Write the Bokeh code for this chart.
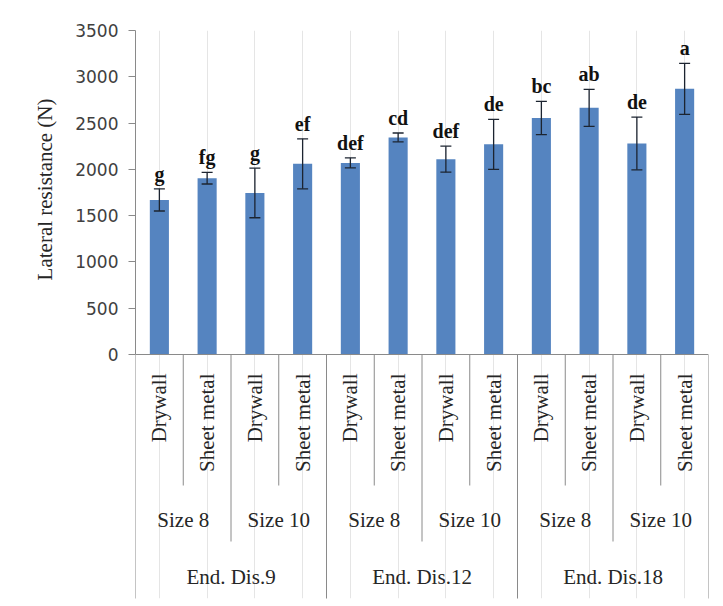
import math
from bokeh.plotting import figure
from bokeh.models import (ColumnDataSource, FactorRange, Range1d, Whisker,
                          TeeHead, Span, Title)
from bokeh.core.properties import value
from bokeh.embed import file_html
from bokeh.resources import INLINE

# ---- data ----
distances = ["End. Dis.9", "End. Dis.12", "End. Dis.18"]
sizes = ["Size 8", "Size 10"]
materials = ["Drywall", "Sheet metal"]
means = [1670, 1905, 1745, 2060, 2070, 2345, 2110, 2270, 2555, 2665, 2280, 2870]
errors = [120, 63, 268, 270, 55, 48, 140, 270, 180, 200, 285, 275]
letters = ["g", "fg", "g", "ef", "def", "cd", "def", "de", "bc", "ab", "de", "a"]
y_ticks = [0, 500, 1000, 1500, 2000, 2500, 3000, 3500]
y_title = "Lateral resistance (N)"

factors = [(d, s, m) for d in distances for s in sizes for m in materials]

# ---- layout constants (pixels) ----
W, H = 723, 606
FRAME_LEFT, FRAME_RIGHT = 135, 708
FRAME_TOP, FRAME_BOTTOM = 30, 598
BASE_Y = 354             # pixel row of value 0
PLOT_PX = BASE_Y - FRAME_TOP
Y_MAX = 3500
UPP = Y_MAX / PLOT_PX    # data units per pixel (vertical)
frame_h = FRAME_BOTTOM - FRAME_TOP
Y_MIN = -(frame_h - PLOT_PX) * UPP

def below(px):
    return -px * UPP

AX = "#8a8a8a"
TXT = "#262626"
SERIF = "Liberation Serif"

p = figure(width=W, height=H, output_backend="svg", toolbar_location=None,
           x_range=FactorRange(*factors, factor_padding=0, subgroup_padding=0,
                               group_padding=0, range_padding=0),
           y_range=Range1d(Y_MIN, Y_MAX), x_axis_location=None,
           min_border_left=FRAME_LEFT, min_border_right=W - FRAME_RIGHT,
           min_border_top=FRAME_TOP, min_border_bottom=H - FRAME_BOTTOM)
p.outline_line_color = None
p.ygrid.visible = False
p.background_fill_color = "white"
p.border_fill_color = "white"

ya = p.yaxis[0]
ya.bounds = (0, Y_MAX)
ya.ticker = y_ticks
ya.axis_line_color = AX
ya.major_tick_line_color = AX
ya.major_tick_out = 7
ya.major_tick_in = 0
ya.minor_tick_line_color = None
ya.major_label_standoff = 10
ya.major_label_text_font = "DejaVu Sans"
ya.major_label_text_font_size = "17px"
ya.major_label_text_color = "#404040"

# y-axis title, placed over the 0..3500 band (top end of text at px 98)
p.add_layout(Title(text=y_title, align="right", offset=98 - FRAME_TOP,
                   text_font=SERIF, text_font_size="21px",
                   text_font_style="normal", text_color=TXT, standoff=32),
             "left")

# baseline
p.add_layout(Span(location=0, dimension="width", line_color=AX, line_width=1))

# bars
src = ColumnDataSource(dict(
    x=factors, top=means,
    upper=[m + e for m, e in zip(means, errors)],
    lower=[m - e for m, e in zip(means, errors)],
    lab=letters,
    lab_y=[m + e + 15 * UPP for m, e in zip(means, errors)]))
p.vbar(x="x", top="top", width=0.4, source=src, fill_color="#5584C0",
       line_color=None)

EC = "#1c2430"
w = Whisker(source=src, base="x", upper="upper", lower="lower",
            line_color=EC, line_width=1.3, level="overlay",
            upper_head=TeeHead(size=11, line_color=EC, line_width=1.3),
            lower_head=TeeHead(size=11, line_color=EC, line_width=1.3))
p.add_layout(w)

p.text(x="x", y="lab_y", text="lab", source=src,
       text_align="center", text_baseline="middle",
       text_font=value(SERIF), text_font_style="bold",
       text_font_size="20px", text_color="#111111")

# ---- category table below the axis ----
n = len(factors)
per_size = len(materials)
per_dis = len(sizes) * len(materials)
sx, sy0, sy1 = [], [], []
for k in range(n + 1):
    if k % per_dis == 0:
        depth = 250
    elif k % per_size == 0:
        depth = 187
    else:
        depth = 131
    sx.append(k)
    sy0.append(0)
    sy1.append(below(depth))
p.segment(x0=sx, y0=sy0, x1=sx, y1=sy1, line_color=AX, line_width=1)

p.text(x=factors, y=[below(19)] * n, text=[f[2] for f in factors],
       angle=math.pi / 2, text_align="right", text_baseline="middle",
       text_font=value(SERIF), text_font_size="21px", text_color=TXT)

mid = [(d, s) for d in distances for s in sizes]
p.text(x=mid, y=[below(165)] * len(mid), text=[m[1] for m in mid],
       text_align="center", text_baseline="middle",
       text_font=value(SERIF), text_font_size="21px", text_color=TXT)

p.text(x=distances, y=[below(222)] * len(distances), text=distances,
       text_align="center", text_baseline="middle",
       text_font=value(SERIF), text_font_size="21px", text_color=TXT)

open("out.html", "w").write(file_html(p, INLINE))
